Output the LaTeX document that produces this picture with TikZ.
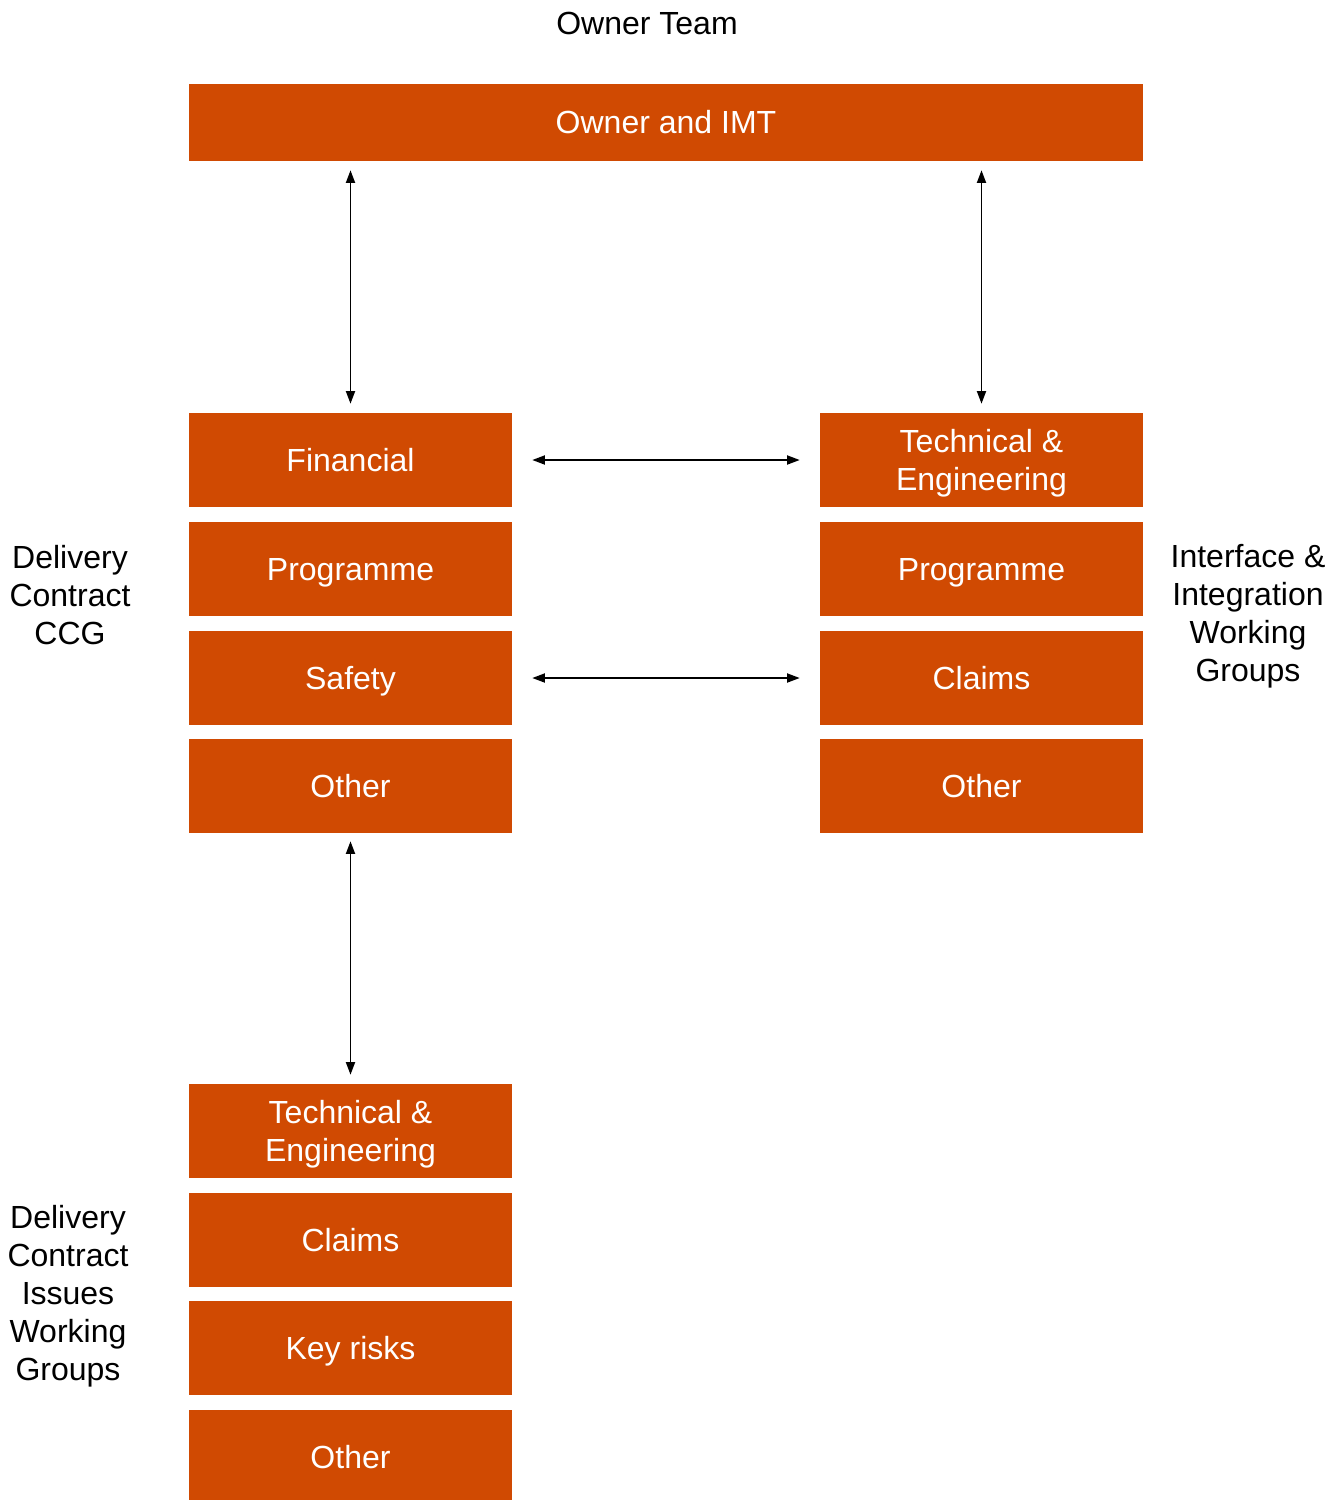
\documentclass[tikz,border=0pt]{standalone}
\usepackage{fontspec}
\setmainfont{Liberation Sans}
\usetikzlibrary{arrows.meta}
\definecolor{pwcorange}{HTML}{D04A02}
\newcommand{\toplift}{\rule{0pt}{22.2pt}}
\tikzset{
  box/.style={fill=pwcorange, text=white, inner sep=0pt, align=center,
    minimum width=242.25pt, minimum height=70.5pt,
    font=\fontsize{24}{28.5}\selectfont},
  one/.style={text height=20pt, text depth=2.8pt},
  lbl/.style={align=center, inner sep=0pt, font=\fontsize{24}{28.5}\selectfont},
  arr/.style={line width=1.4pt, {Triangle[length=9.5pt,width=6.75pt]}-{Triangle[length=9.5pt,width=6.75pt]}}
}
\begin{document}
\begin{tikzpicture}[x=0.75pt,y=-0.75pt]
\useasboundingbox (0,0) rectangle (1343,1500);
\node[lbl, one] (title) at (647,23) {Owner Team};
\node[box, one, minimum width=715.5pt, minimum height=57.75pt] (own) at (666,122.5) {Owner and IMT};
% left column
\node[box, one] (fin) at (350.5,460) {Financial};
\node[box, one] (lprog) at (350.5,569) {Programme};
\node[box, one] (safe) at (350.5,678) {Safety};
\node[box, one] (lother) at (350.5,786) {Other};
% right column
\node[box] (rte) at (981.5,460) {\toplift Technical \&\\Engineering};
\node[box, one] (rprog) at (981.5,569) {Programme};
\node[box, one] (rclaims) at (981.5,678) {Claims};
\node[box, one] (rother) at (981.5,786) {Other};
% bottom column
\node[box] (bte) at (350.5,1131) {\toplift Technical \&\\Engineering};
\node[box, one] (bclaims) at (350.5,1240) {Claims};
\node[box, one] (bkey) at (350.5,1348) {Key risks};
\node[box, one] (bother) at (350.5,1457) {Other};
% side labels
\node[lbl] (ccg) at (70,595) {Delivery\\Contract\\CCG};
\node[lbl] (iig) at (1248,616) {Interface \&\\Integration\\Working\\Groups};
\node[lbl] (dciwg) at (68,1296) {Delivery\\Contract\\Issues\\Working\\Groups};
% connectors
\draw[arr, shorten <=6.75pt, shorten >=6.75pt] (fin.north) -- (fin.north |- own.south);
\draw[arr, shorten <=6.75pt, shorten >=6.75pt] (rte.north) -- (rte.north |- own.south);
\draw[arr, shorten <=15pt, shorten >=15pt] (fin.east) -- (rte.west);
\draw[arr, shorten <=15pt, shorten >=15pt] (safe.east) -- (rclaims.west);
\draw[arr, shorten <=6pt, shorten >=6.75pt] (lother.south) -- (bte.north);
\end{tikzpicture}
\end{document}
